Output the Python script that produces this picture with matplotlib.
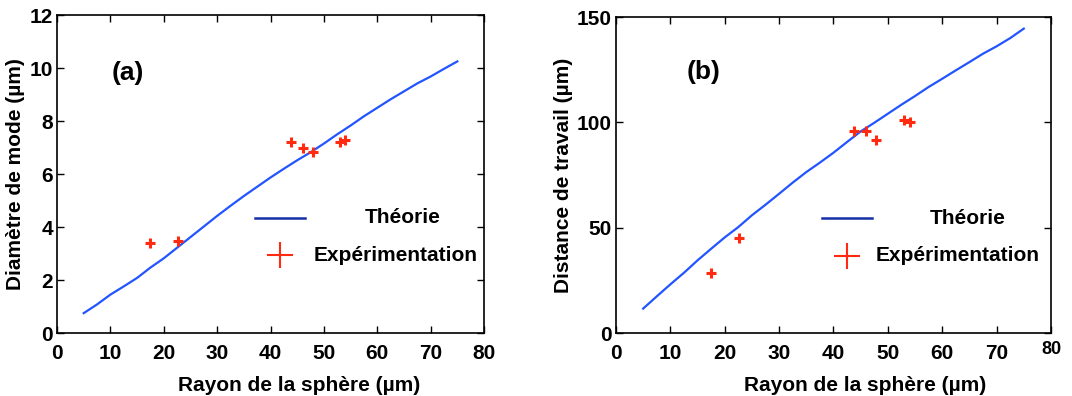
import matplotlib
matplotlib.use("Agg")
import matplotlib.pyplot as plt
from matplotlib.lines import Line2D

plt.rcParams['font.family'] = ['Liberation Sans', 'DejaVu Sans']
plt.rcParams['font.weight'] = 'bold'

# Theory curves
theory_r = [5, 7.5, 10, 12.5, 15, 17.5, 20, 22.5, 25, 27.5, 30, 32.5, 35, 37.5, 40,
            42.5, 45, 47.5, 50, 52.5, 55, 57.5, 60, 62.5, 65, 67.5, 70, 72.5, 75]
theory_mode = [0.75, 1.08, 1.45, 1.76, 2.08, 2.47, 2.82, 3.22, 3.62, 4.02, 4.42, 4.8,
               5.17, 5.52, 5.87, 6.2, 6.52, 6.82, 7.15, 7.5, 7.83, 8.18, 8.5, 8.82,
               9.12, 9.42, 9.68, 9.97, 10.25]
theory_dist = [11.6, 17.4, 23.1, 28.6, 34.5, 40.0, 45.4, 50.3, 55.9, 60.9, 66.1, 71.4,
               76.4, 80.9, 85.6, 90.7, 95.7, 99.8, 104.1, 108.4, 112.5, 116.8, 120.7,
               124.7, 128.6, 132.6, 136.1, 140.0, 144.5]

# Experimental points
exp_r = [17.5, 22.6, 43.8, 46.0, 47.9, 53.0, 54.0]
exp_mode = [3.41, 3.48, 7.2, 7.0, 6.82, 7.2, 7.28]
exp_dist = [28.4, 45.1, 96.1, 95.8, 91.4, 101.2, 100.4]

xlabel = "Rayon de la sphère (µm)"
ylabels = ["Diamètre de mode (µm)", "Distance de travail (µm)"]
panel_tags = ["(a)", "(b)"]

line_col = '#2255ff'
leg_line_col = '#1530a8'
pt_col = '#ff2a10'

fig = plt.figure(figsize=(10.72, 3.96), dpi=100)
ax1 = fig.add_axes([0.0532, 0.159, 0.3983, 0.803])
ax2 = fig.add_axes([0.5746, 0.159, 0.4058, 0.798])

configs = [
    (ax1, theory_mode, exp_mode, (0, 12), list(range(0, 13, 2)), (10.3, 9.8), 0.567,
     dict(lx0=0.464, lx1=0.58, ly=0.362, tx=0.721, px=0.522, py=0.245, ex=0.60)),
    (ax2, theory_dist, exp_dist, (0, 150), [0, 50, 100, 150], (13.0, 124), 0.572,
     dict(lx0=0.474, lx1=0.589, ly=0.364, tx=0.722, px=0.531, py=0.244, ex=0.598)),
]

for i, (ax, th, ex, ylim, yticks, tagpos, xlab_x, lg) in enumerate(configs):
    ax.plot(theory_r, th, color=line_col, lw=1.6)
    ax.plot(exp_r, ex, linestyle='none', marker='+', color=pt_col,
            markersize=7, markeredgewidth=2.2)
    ax.set_xlim(0, 80)
    ax.set_ylim(*ylim)
    ax.set_xticks(range(0, 81, 10))
    ax.set_yticks(yticks)
    ax.tick_params(direction='in', top=True, right=True, labelsize=15,
                   length=5, width=1)
    ax.tick_params(axis='x', pad=8)
    ax.tick_params(axis='y', pad=3)
    for lab in ax.get_xticklabels() + ax.get_yticklabels():
        lab.set_fontweight('bold')
    for s in ax.spines.values():
        s.set_linewidth(1.2)
    ax.set_xlabel(xlabel, fontsize=15, fontweight='bold', labelpad=9)
    ax.xaxis.label.set_x(xlab_x)
    ax.set_ylabel(ylabels[i], fontsize=15, fontweight='bold', labelpad=3)
    ax.text(tagpos[0], tagpos[1], panel_tags[i], fontsize=19, fontweight='bold',
            va='center', ha='left')
    # manual legend
    ax.add_line(Line2D([lg['lx0'], lg['lx1']], [lg['ly'], lg['ly']],
                       transform=ax.transAxes, color=leg_line_col, lw=1.8))
    ax.text(lg['tx'], lg['ly'], "Théorie", transform=ax.transAxes,
            fontsize=15, fontweight='bold', va='center', ha='left')
    ax.add_line(Line2D([lg['px']], [lg['py']], transform=ax.transAxes,
                       marker='+', color=pt_col, markersize=19, markeredgewidth=1.5,
                       linestyle='none'))
    ax.text(lg['ex'], lg['py'], "Expérimentation", transform=ax.transAxes,
            fontsize=15, fontweight='bold', va='center', ha='left')

# odd placement of last x tick label in panel (b)
fig.canvas.draw()
lbl = ax2.get_xticklabels()[-1]
lbl.set_fontsize(13)
lbl.set_y(0.01)

fig.savefig("out.png", dpi=100)
